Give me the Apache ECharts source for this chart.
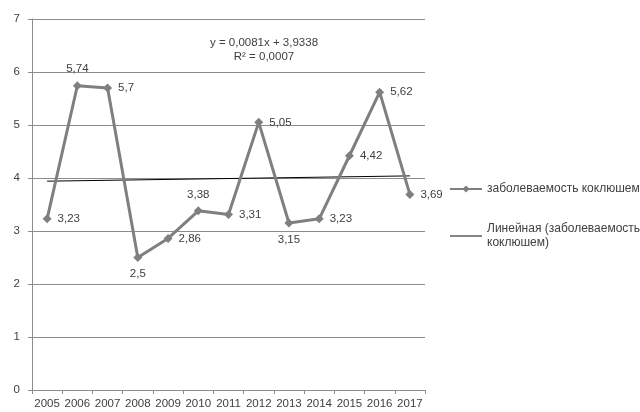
<!DOCTYPE html>
<html><head><meta charset="utf-8">
<script src="https://cdn.jsdelivr.net/npm/echarts@6/dist/echarts.min.js"></script>
<style>html,body{margin:0;padding:0;background:#fff}#c{width:640px;height:412px}</style>
</head><body><div id="c"></div>
<script>
var years = ['2005','2006','2007','2008','2009','2010','2011','2012','2013','2014','2015','2016','2017'];
var incidence = [3.23, 5.74, 5.7, 2.5, 2.86, 3.38, 3.31, 5.05, 3.15, 3.23, 4.42, 5.62, 3.69];
var trendEnds = [3.94, 4.04];
var yTicks = [0, 1, 2, 3, 4, 5, 6, 7];
var seriesName = 'заболеваемость коклюшем';
var trendName = 'Линейная (заболеваемость коклюшем)';
var equationText = 'y = 0,0081x + 3,9338';
var r2Text = 'R² = 0,0007';

var labelPos = ['right','top','right','bottom','right','top','right','right','bottom','right','right','right','right'];
var font = 'Liberation Sans, Arial, sans-serif';
var txt = '#404040';

var mainData = incidence.map(function(v, i){
  return {value: v, label: {position: labelPos[i]}};
});
var trendData = years.map(function(){ return null; });
trendData[0] = trendEnds[0];
trendData[years.length - 1] = trendEnds[1];

var chart = echarts.init(document.getElementById('c'));
chart.setOption({
  animation: false,
  backgroundColor: '#fff',
  textStyle: {fontFamily: font},
  grid: {left: 32, right: 215, top: 19, bottom: 22, containLabel: false},
  xAxis: {
    type: 'category', data: years, boundaryGap: true,
    axisLine: {lineStyle: {color: '#8c8c8c', width: 1}},
    axisTick: {show: true, length: 4, lineStyle: {color: '#8c8c8c'}},
    axisLabel: {color: txt, fontSize: 11.5, margin: 8, interval: 0, fontFamily: font}
  },
  yAxis: {
    type: 'value', min: yTicks[0], max: yTicks[yTicks.length-1], interval: 1,
    axisLine: {show: true, lineStyle: {color: '#8c8c8c'}},
    axisTick: {show: true, length: 4, lineStyle: {color: '#8c8c8c'}},
    axisLabel: {color: txt, fontSize: 11.5, margin: 12, fontFamily: font},
    splitLine: {lineStyle: {color: '#8c8c8c', width: 1}}
  },
  legend: {
    orient: 'vertical', left: 444, top: 177, itemGap: 26,
    itemWidth: 32, itemHeight: 9,
    textStyle: {color: txt, fontSize: 12, fontFamily: font, lineHeight: 14},
    formatter: function(n){ return n === trendName ? 'Линейная (заболеваемость\nкоклюшем)' : n; },
    data: [
      seriesName,
      {name: trendName, icon: 'path://M0,0 L40,0 L40,1.2 L0,1.2 Z'}
    ]
  },
  graphic: [
    {type: 'text', x: 264, y: 36, style: {text: equationText + '\n' + r2Text, fill: txt, font: '11.5px ' + font, textAlign: 'center', lineHeight: 14}}
  ],
  series: [
    {
      name: seriesName, type: 'line', data: mainData,
      symbol: 'diamond', symbolSize: 9,
      lineStyle: {color: '#7f7f7f', width: 3},
      itemStyle: {color: '#7f7f7f'},
      label: {show: true, color: txt, fontSize: 11.5, fontFamily: font, distance: 6,
        formatter: function(p){ return String(p.value).replace('.', ','); }}
    },
    {
      name: trendName, type: 'line', data: trendData, connectNulls: true,
      symbol: 'none', lineStyle: {color: '#000', width: 1}, itemStyle: {color: '#000'},
      z: 1
    }
  ]
});
</script></body></html>
